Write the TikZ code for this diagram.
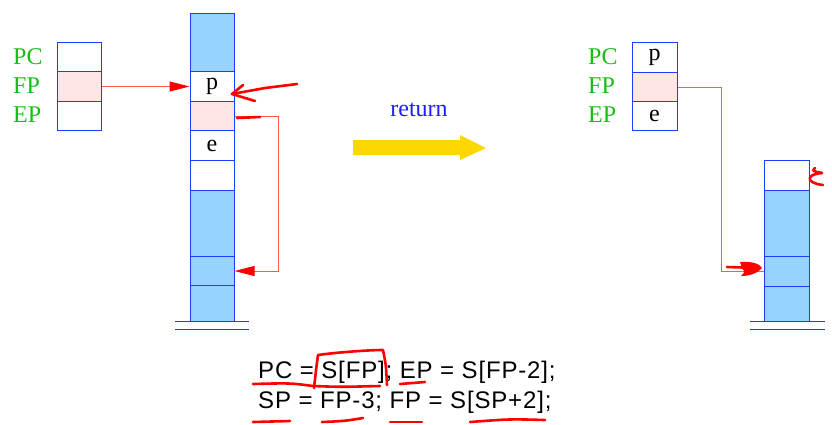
\documentclass[tikz,border=0pt]{standalone}
\usepackage{fontspec}
\setmainfont{Liberation Serif}
\newfontfamily\sansf[LetterSpace=3.5]{Liberation Sans}
\usetikzlibrary{arrows.meta}
\definecolor{cellblue}{RGB}{150,212,255}
\definecolor{edgeblue}{RGB}{30,60,255}
\definecolor{cellpink}{RGB}{255,230,230}
\definecolor{linered}{RGB}{255,90,70}
\definecolor{hand}{RGB}{255,0,0}
\definecolor{labgreen}{RGB}{20,190,20}
\definecolor{arrowyellow}{RGB}{255,215,0}
\definecolor{retblue}{RGB}{30,30,255}
\tikzset{
  cell/.style={draw=edgeblue, line width=1pt, rectangle, anchor=north, inner sep=0pt,
    font=\fontsize{24}{24}\selectfont},
  bluecell/.style={cell, fill=cellblue},
  pinkcell/.style={cell, fill=cellpink},
  whitecell/.style={cell, fill=white},
  reglab/.style={anchor=west, inner sep=0pt, text=labgreen, font=\fontsize{24}{24}\selectfont},
  link/.style={draw=linered, line width=1pt, -{Triangle[length=20pt,width=10pt,fill=hand,color=hand]}},
  plainlink/.style={draw=linered, line width=1pt},
  handstroke/.style={draw=hand, line width=2.6pt, line cap=round, line join=round},
  code/.style={anchor=base west, inner sep=0pt, font=\sansf\fontsize{24}{24}\selectfont},
  baseline/.style={draw=edgeblue, line width=1pt},
}
\begin{document}
\begin{tikzpicture}[x=1pt,y=-1pt]
\useasboundingbox (0,0) rectangle (832,424);
% left registers
\node[whitecell, minimum width=44pt, minimum height=29pt] (lpc) at (79,42) {};
\node[pinkcell, minimum width=44pt, minimum height=30pt] (lfp) at (79,71) {};
\node[whitecell, minimum width=44pt, minimum height=29pt] (lep) at (79,101) {};
\node[reglab] (llpc) at (13,57) {PC};
\node[reglab] (llfp) at (13,86) {FP};
\node[reglab] (llep) at (13,115) {EP};
% left stack
\node[bluecell, minimum width=44pt, minimum height=58pt] (s1) at (212,13) {};
\node[whitecell, minimum width=44pt, minimum height=30pt] (s2) at (212,71) {p};
\node[pinkcell, minimum width=44pt, minimum height=29pt] (s3) at (212,101) {};
\node[whitecell, minimum width=44pt, minimum height=30pt] (s4) at (212,130) {e};
\node[whitecell, minimum width=44pt, minimum height=30pt] (s5) at (212,160) {};
\node[bluecell, minimum width=44pt, minimum height=66pt] (s6) at (212,190) {};
\node[bluecell, minimum width=44pt, minimum height=29pt] (s7) at (212,256) {};
\node[bluecell, minimum width=44pt, minimum height=36pt] (s8) at (212,285) {};
\draw[baseline] (175,321) -- (249,321);
\draw[baseline] (175,329) -- (249,329);
% left links
\coordinate (lx) at (278,0);
\draw[link] (lfp.east) -- (s2.west);
\draw[link] (s3.east) -- (s3.east -| lx) |- (s7.east);
% return arrow
\node[text=retblue, font=\fontsize{24}{24}\selectfont, inner sep=0pt] (ret) at (419,110) {return};
\fill[arrowyellow] (353,140) -- (460,140) -- (460,135) -- (486,148) -- (460,160) -- (460,155) -- (353,155) -- cycle;
% right registers
\node[whitecell, minimum width=45pt, minimum height=30pt] (rpc) at (654.5,42) {p};
\node[pinkcell, minimum width=45pt, minimum height=29pt] (rfp) at (654.5,72) {};
\node[whitecell, minimum width=45pt, minimum height=29pt] (rep) at (654.5,101) {e};
\node[reglab] (rlpc) at (588,57) {PC};
\node[reglab] (rlfp) at (588,86) {FP};
\node[reglab] (rlep) at (588,115) {EP};
% right stack
\node[whitecell, minimum width=45pt, minimum height=30pt] (r1) at (786.5,160) {};
\node[bluecell, minimum width=45pt, minimum height=66pt] (r2) at (786.5,190) {};
\node[bluecell, minimum width=45pt, minimum height=30pt] (r3) at (786.5,256) {};
\node[bluecell, minimum width=45pt, minimum height=35pt] (r4) at (786.5,286) {};
\draw[baseline] (750,321) -- (825,321);
\draw[baseline] (750,329) -- (825,329);
\coordinate (rx) at (721,0);
\draw[plainlink] (rfp.east) -- (rfp.east -| rx) |- (r3.west);
% code lines
\node[code] (c1) at (258,378) {PC = S[FP]; EP = S[FP-2];};
\node[code] (c2) at (258,408) {SP = FP-3; FP = S[SP+2];};
% handwritten annotations
\draw[handstroke] (297,84) -- (265,88) -- (232,94);
\draw[handstroke] (243,85) -- (232,94) -- (255,101);
\draw[handstroke] (237,118) -- (260,117);
\draw[handstroke] (815,168) .. controls (812,171) .. (822,173);
\draw[handstroke] (822,173) .. controls (806,174) and (805,183) .. (823,185);
\draw[handstroke] (727,267) -- (758,268);
\fill[hand] (740,262) .. controls (752,261) and (760,264) .. (762,268) .. controls (758,273) and (750,276) .. (741,276) .. controls (745,272) .. (742,268) -- cycle;
\draw[handstroke] (253,384) .. controls (290,383) .. (313,386) .. controls (340,387) .. (380,386);
\draw[handstroke] (314,388) .. controls (316,370) .. (318,355) .. controls (340,352) and (370,350) .. (383,350) .. controls (386,365) .. (387,385);
\draw[handstroke] (400,384) -- (425,382);
\draw[handstroke] (253,422) -- (290,421);
\draw[handstroke] (322,422) .. controls (345,421) .. (363,418);
\draw[handstroke] (390,422) -- (422,422);
\draw[handstroke] (470,422) .. controls (510,419) .. (545,420);
\end{tikzpicture}
\end{document}
